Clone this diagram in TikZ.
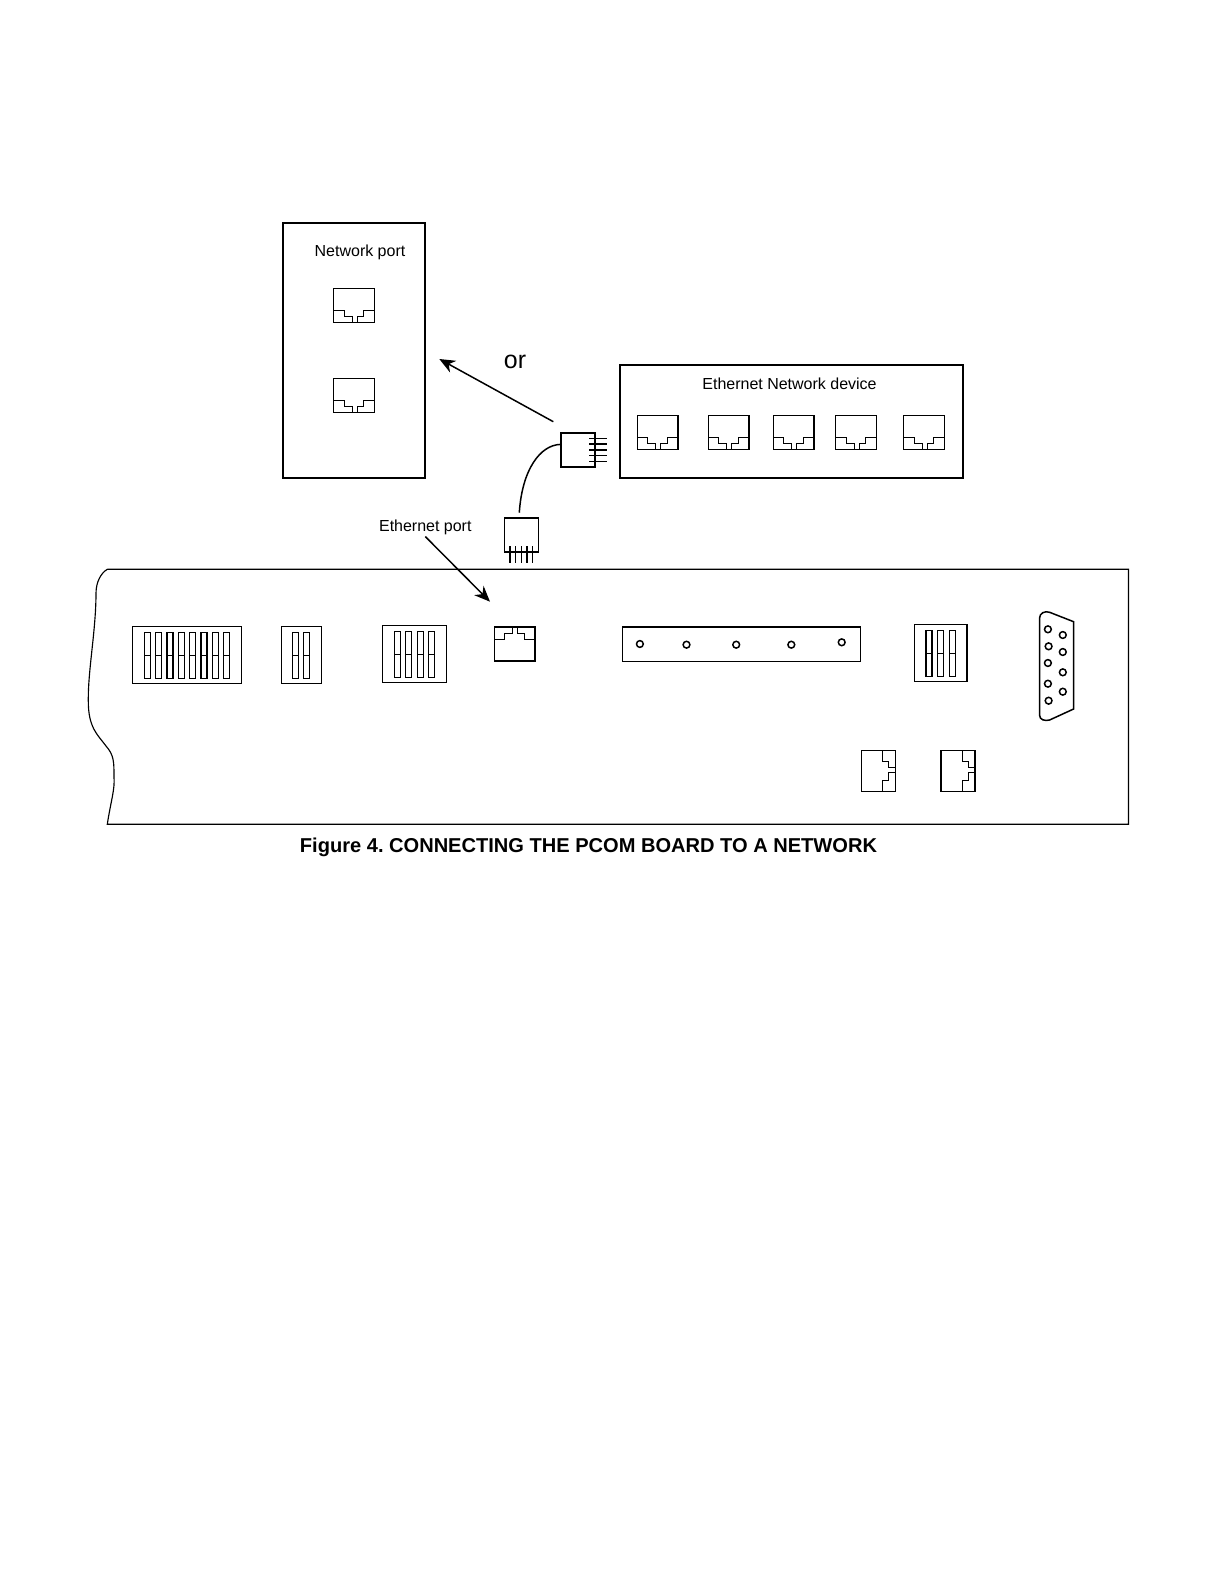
\documentclass[tikz,border=0pt]{standalone}
\usepackage{fontspec}
\setmainfont{Liberation Sans}
\usetikzlibrary{arrows.meta}
\frenchspacing
\tikzset{
    wire/.style={line width=0.85pt},
    thin wire/.style={line width=0.65pt},
    label/.style={inner sep=1pt,font=\fontsize{9.1}{11}\selectfont},
    plug/.style={draw,wire,minimum width=19.2pt,minimum height=19.4pt,inner sep=0pt},
    pointer/.style={wire,-{Stealth[length=9pt,width=7.5pt]}},
    jack/.pic={
        \draw[wire] (0,0) rectangle (40.7,34);
        \draw[thin wire] (0,21.5)--(10.4,21.5)--(10.4,27.6)--(18.6,27.6)--(18.6,34);
        \draw[thin wire] (23.6,34)--(23.6,27.6)--(29.8,27.6)--(29.8,21.5)--(40.7,21.5);
    },
    dipsw/.pic={
        \draw[wire] (0,0) rectangle (6,46);
        \draw[thin wire] (0,23)--(6,23);
    }
}

\begin{document}
\begin{tikzpicture}[x=0.02cm,y=-0.02cm]
            \useasboundingbox (0,0) rectangle (1224,1584);
            % network port panel
            \draw[line width=1pt] (282.7,222.7) rectangle (425.3,477.7);
            \node[label] (netlabel) at (360,252){Network port};
            \foreach \y in {288.7,378.7}{
                \pic at (333.7,\y) {jack};
            }
            % device panel
            \draw[line width=1pt] (620,365) rectangle (963.3,477.7);
            \node[label] (devlabel) at (789.5,384){Ethernet Network device};
            \foreach \x in {637.3,708.3,773.3,835.7,903.7}{
                \pic at (\x,415.7) {jack};
            }
            % cable and its two plugs
            \node[plug] (plugR) at (578,449.8){};
            \node[plug] (plugB) at (521.5,534.8){};
            \foreach \y in {438.3,444,455.7,461.3}{
                \draw[thin wire] (589.3,\y)--(607.3,\y);
            }
            \draw[wire] (589.3,450)--(607.3,450);
            \foreach \x in {510,515.7,521.3,527,532.7}{
                \draw[wire] (\x,546)--(\x,563.3);
            }
            \coordinate (cableB) at (519.3,512.7);
            \draw[wire] (plugR.163) .. controls (540,445) and (522,470) .. (cableB);
            % arrows
            \coordinate (orstart) at (553.3,421.7);
            \coordinate (ortip) at (439.3,359);
            \coordinate (ethtip) at (490,601.7);
            \node[font=\fontsize{14.2}{16}\selectfont] (orlabel) at (515,362){or};
            \draw[pointer] (orstart)--(ortip);
            \node[label] (ethlabel) at (425.3,527){Ethernet port};
            \draw[pointer] (ethlabel.south)--(ethtip);
            % board outline
            \draw[thin wire] (107.3,569.3)--(1128.5,569.3)--(1128.5,824.3)--(107.3,824.3)
                .. controls (111,800) and (115,790) .. (114,776.7)
                .. controls (114,762) and (114,755) .. (106,746)
                .. controls (98,735) and (88,728) .. (88.3,700)
                .. controls (88,670) and (96,630) .. (96,593.3)
                .. controls (96,582) and (101,573) .. (107.3,569.3);
            % dip switch blocks
            \draw[wire] (132.7,626.7) rectangle (241.3,683.3);
            \foreach \x in {144.3,155.6,167,178.3,189.6,201,212.3,223.6}{
                \pic at (\x,632.3) {dipsw};
            }
            \draw[wire] (281.7,626.7) rectangle (321.3,683.3);
            \foreach \x in {292.7,303.7}{
                \pic at (\x,632.3) {dipsw};
            }
            \draw[wire] (382.7,625.7) rectangle (446.3,682.3);
            \foreach \x in {394.7,405.7,417.3,428.7}{
                \pic at (\x,631.3) {dipsw};
            }
            \draw[wire] (914.7,624.7) rectangle (966.8,681.7);
            \foreach \x in {926.2,937.7,949.6}{
                \pic at (\x,630.3) {dipsw};
            }
            % ports on the board
            \pic[yscale=-1] at (494.3,661) {jack};
            \foreach \x in {861.3,940.8}{
                \pic[rotate=90] at (\x,791.3) {jack};
            }
            % terminal strip
            \draw[wire] (622.6,627.2) rectangle (860.3,661.3);
            \foreach \x/\y in {639.9/644,686.5/644.7,736.2/644.7,791.3/644.7,841.7/642.3}{
                \draw[wire] (\x,\y) circle (3.4);
            }
            % serial connector
            \draw[wire] (1039.5,618.3) .. controls (1039.5,613) and (1045,610.6) .. (1049.6,612.3)
                --(1073.6,621.7)--(1073.6,709)--(1049.6,720)
                .. controls (1045,721.2) and (1039.5,720) .. (1039.5,715)--cycle;
            \foreach \x/\y in {1047.9/629.3,1048.6/646.3,1047.9/663,1047.9/683.7,1048.6/700.7,
                1062.8/635,1062.8/652,1062.8/672.3,1062.8/691.7}{
                \draw[wire] (\x,\y) circle (3.4);
            }
            \node[inner sep=0pt,font=\bfseries\fontsize{11.42}{14}\selectfont] (caption) at (588.5,847.5){Figure 4. CONNECTING THE PCOM BOARD TO A NETWORK};
        \end{tikzpicture}
\end{document}
